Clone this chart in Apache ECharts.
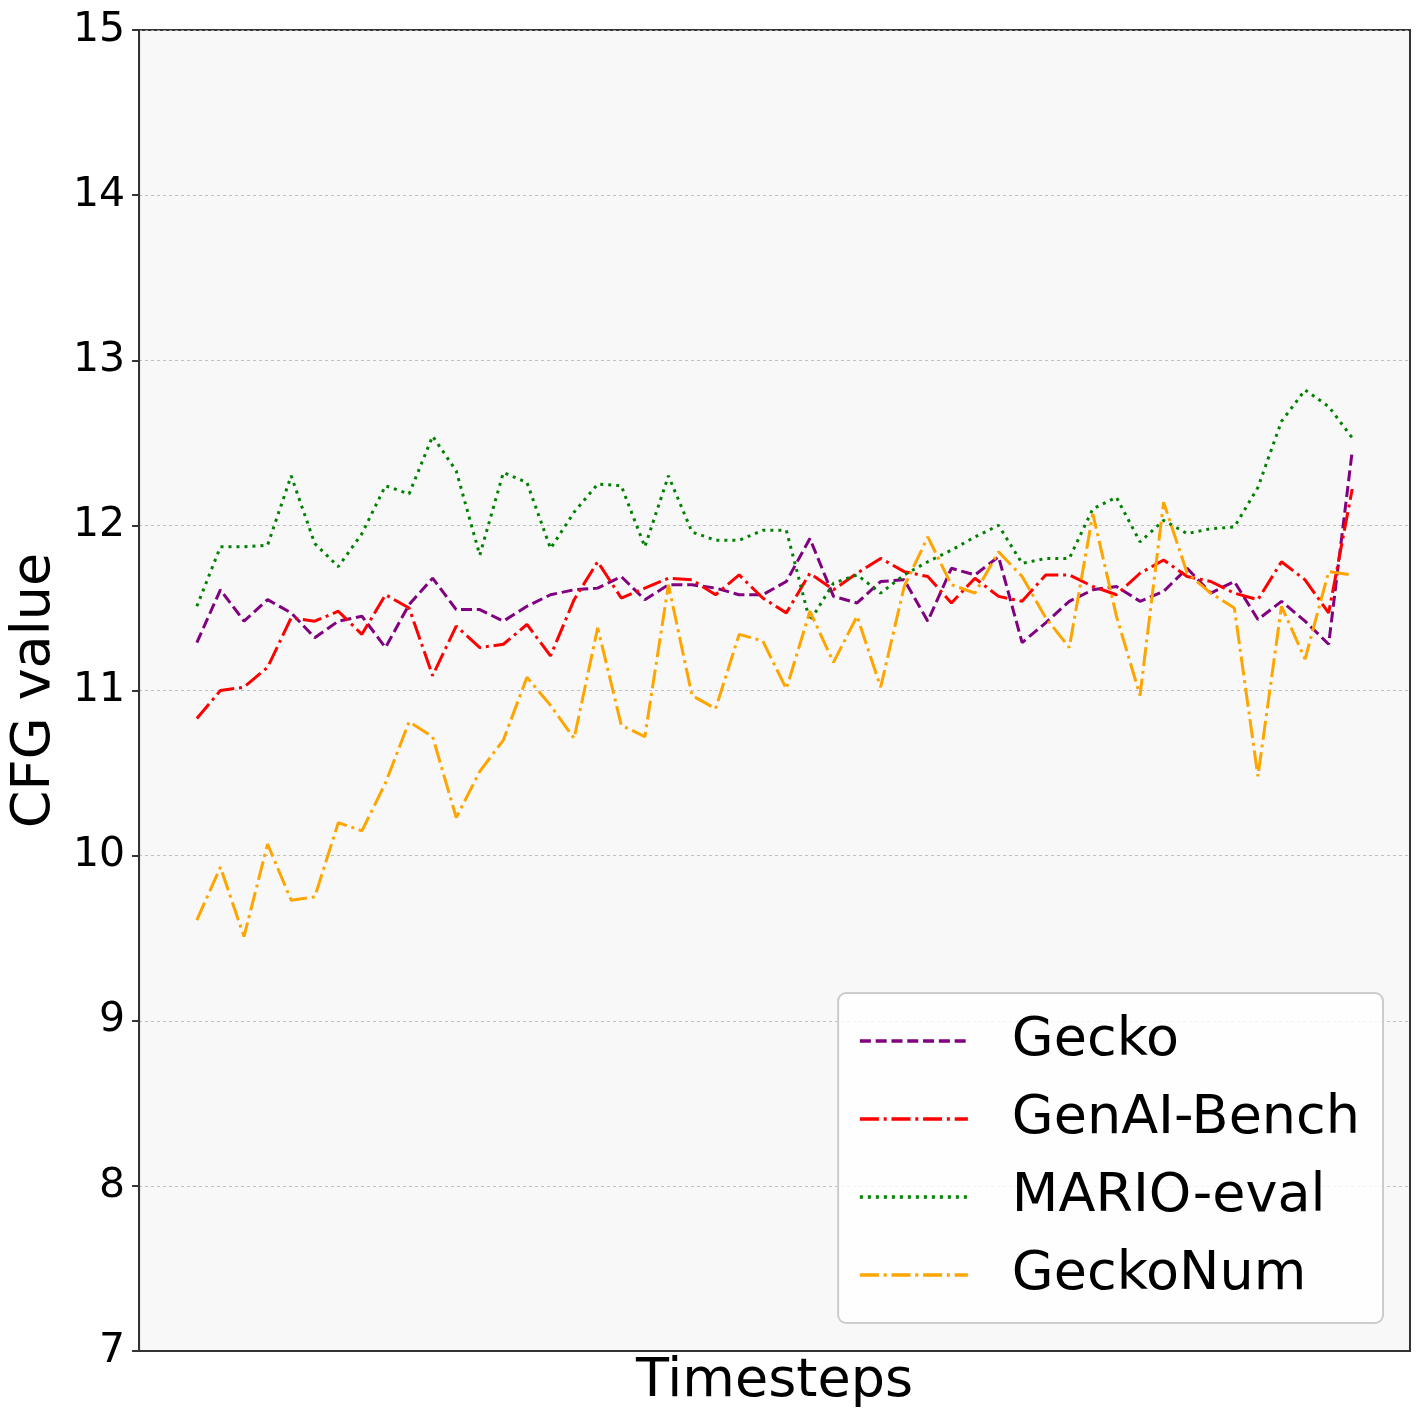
<!DOCTYPE html>
<html>
<head>
<meta charset="utf-8">
<script src="https://cdn.jsdelivr.net/npm/echarts@6/dist/echarts.min.js"></script>
<style>
  html, body { margin: 0; padding: 0; background: #fff; }
  #cfgChart { width: 1425px; height: 1426px; }
</style>
</head>
<body>
<div id="cfgChart"></div>
<script>
// values, one per timestep (50 steps)
var gecko = [11.29, 11.61, 11.42, 11.55, 11.47, 11.32, 11.42, 11.45, 11.26, 11.52,
  11.68, 11.49, 11.49, 11.42, 11.51, 11.58, 11.61, 11.62, 11.69, 11.55,
  11.64, 11.64, 11.62, 11.58, 11.58, 11.66, 11.92, 11.57, 11.53, 11.66,
  11.67, 11.42, 11.74, 11.70, 11.81, 11.29, 11.41, 11.54, 11.61, 11.63,
  11.54, 11.60, 11.74, 11.59, 11.66, 11.43, 11.54, 11.42, 11.28, 12.45];
var genai = [10.83, 11.00, 11.02, 11.14, 11.44, 11.42, 11.48, 11.34, 11.58, 11.50,
  11.09, 11.39, 11.26, 11.28, 11.40, 11.21, 11.55, 11.78, 11.56, 11.62,
  11.68, 11.67, 11.58, 11.70, 11.56, 11.47, 11.71, 11.61, 11.71, 11.80,
  11.72, 11.69, 11.53, 11.68, 11.57, 11.54, 11.70, 11.70, 11.63, 11.58,
  11.71, 11.79, 11.69, 11.66, 11.59, 11.55, 11.78, 11.67, 11.47, 12.22];
var mario = [11.51, 11.87, 11.87, 11.88, 12.30, 11.89, 11.75, 11.95, 12.24, 12.19,
  12.54, 12.33, 11.82, 12.32, 12.26, 11.86, 12.08, 12.25, 12.24, 11.87,
  12.30, 11.96, 11.91, 11.91, 11.97, 11.97, 11.42, 11.65, 11.70, 11.59,
  11.70, 11.78, 11.85, 11.93, 12.00, 11.77, 11.80, 11.80, 12.10, 12.17,
  11.90, 12.03, 11.95, 11.98, 11.99, 12.23, 12.63, 12.82, 12.72, 12.53];
var geckoNum = [9.61, 9.93, 9.51, 10.07, 9.73, 9.75, 10.20, 10.15, 10.44, 10.81,
  10.72, 10.23, 10.51, 10.70, 11.08, 10.91, 10.71, 11.38, 10.79, 10.72,
  11.64, 10.97, 10.89, 11.34, 11.30, 11.01, 11.48, 11.17, 11.45, 11.02,
  11.63, 11.93, 11.64, 11.59, 11.84, 11.69, 11.44, 11.26, 12.07, 11.45,
  10.97, 12.14, 11.71, 11.59, 11.50, 10.48, 11.51, 11.19, 11.72, 11.70];

var seriesNames = ['Gecko', 'GenAI-Bench', 'MARIO-eval', 'GeckoNum'];
var seriesColors = ['#800080', '#ff0000', '#008000', '#ffa500'];
var seriesDash = [[11, 4.8], [19, 4.8, 3, 4.8], [3, 5], [19, 4.8, 3, 4.8]];
var seriesData = [gecko, genai, mario, geckoNum];

var FONT = 'DejaVu Sans';

function pairs(arr) {
  return arr.map(function (v, i) { return [i, v]; });
}

var chart = echarts.init(document.getElementById('cfgChart'));

var option = {
  animation: false,
  backgroundColor: '#ffffff',
  grid: {
    left: 139, top: 30, right: 15, bottom: 75,
    show: true,
    backgroundColor: '#f8f8f8',
    borderColor: '#333',
    borderWidth: 2
  },
  xAxis: {
    type: 'value',
    min: -2.45,
    max: 51.45,
    name: 'Timesteps',
    nameLocation: 'middle',
    nameGap: 4,
    nameTextStyle: { fontSize: 54, fontFamily: FONT, color: '#000', verticalAlign: 'top' },
    axisLine: { show: true, onZero: false, lineStyle: { color: '#333', width: 2 } },
    axisTick: { show: false },
    axisLabel: { show: false },
    splitLine: { show: false }
  },
  yAxis: {
    type: 'value',
    min: 7,
    max: 15,
    interval: 1,
    name: 'CFG value',
    nameLocation: 'middle',
    nameGap: 69,
    nameTextStyle: { fontSize: 54, fontFamily: FONT, color: '#000' },
    axisLine: { show: true, onZero: false, lineStyle: { color: '#333', width: 2 } },
    axisTick: { show: true, inside: false, length: 7, lineStyle: { color: '#333', width: 2 } },
    axisLabel: { fontSize: 41, fontFamily: FONT, color: '#000', margin: 14 },
    splitLine: { show: true, lineStyle: { color: '#b0b0b0', width: 0.8, type: [3, 3] } }
  },
  legend: {
    orient: 'vertical',
    right: 42,
    bottom: 103,
    padding: [18, 23, 18, 20],
    itemWidth: 108,
    itemHeight: 20,
    itemGap: 18,
    backgroundColor: 'rgba(255,255,255,0.8)',
    borderColor: '#cccccc',
    borderWidth: 2,
    borderRadius: 8,
    data: seriesNames,
    itemStyle: { color: 'rgba(0,0,0,0)', borderWidth: 0 },
    lineStyle: { width: 3.5 },
    textStyle: { fontSize: 54, fontFamily: FONT, color: '#000', lineHeight: 60, padding: [0, 0, 0, 39] }
  },
  series: seriesNames.map(function (name, k) {
    return {
      name: name,
      type: 'line',
      showSymbol: false,
      symbol: 'none',
      data: pairs(seriesData[k]),
      itemStyle: { color: seriesColors[k] },
      lineStyle: { color: seriesColors[k], width: 3, type: seriesDash[k] }
    };
  })
};

chart.setOption(option);
</script>
</body>
</html>
